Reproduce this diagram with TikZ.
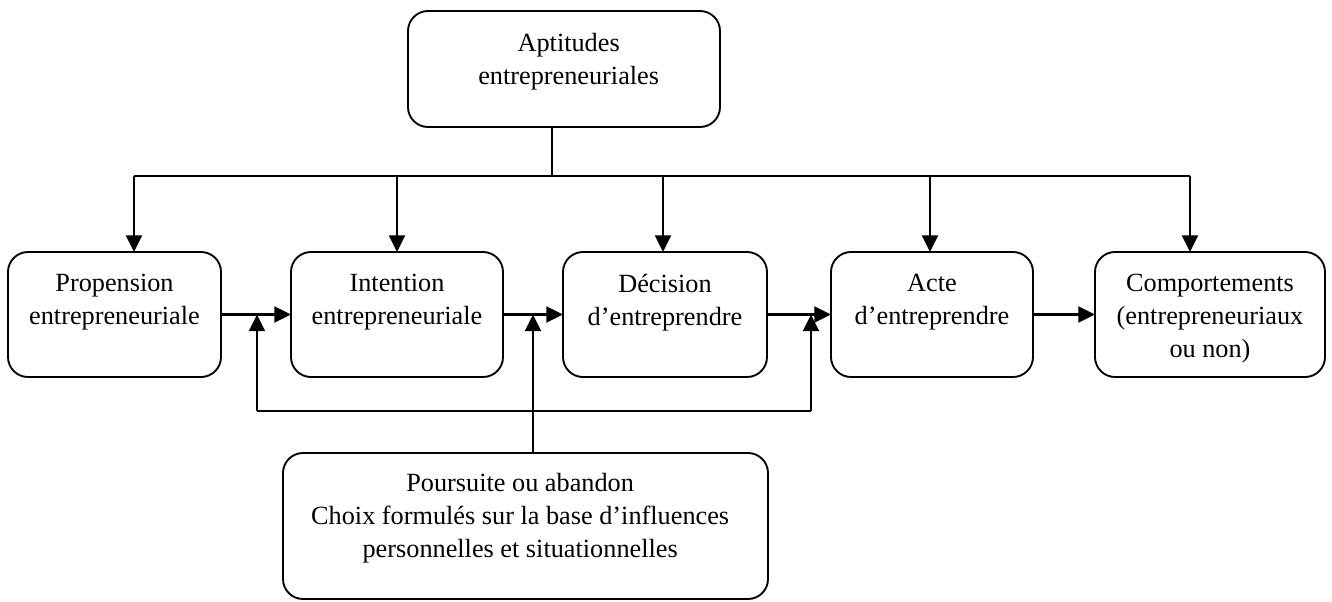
\documentclass[tikz,border=0pt]{standalone}
\usepackage{fontspec}
\setmainfont{Liberation Serif}
\usetikzlibrary{arrows.meta}
\tikzset{
  box/.style={draw, line width=1.4pt, rounded corners=15pt, inner sep=0pt, outer sep=0pt},
  rowbox/.style={box, minimum height=93.75pt},
  txt/.style={anchor=north, inner sep=0pt, align=center,
    font=\fontsize{19.7pt}{24.75pt}\selectfont},
  link/.style={line width=1.6pt},
  arr/.style={link, -{Triangle[length=12.5pt,width=12pt]}},
}
\begin{document}
\begin{tikzpicture}[x=0.75pt,y=-0.75pt]
\useasboundingbox (0,0) rectangle (1332,601);

% boxes
\node[box, minimum width=234pt, minimum height=87pt] (T) at (564,69) {};
\node[rowbox, minimum width=159.75pt] (P1) at (114.5,314.5) {};
\node[rowbox, minimum width=159pt]    (P2) at (397,314.5) {};
\node[rowbox, minimum width=153pt]    (P3) at (665,314.5) {};
\node[rowbox, minimum width=151.5pt]  (P4) at (932,314.5) {};
\node[rowbox, minimum width=172.5pt]  (P5) at (1210,314.5) {};
\node[box, minimum width=363.75pt, minimum height=109.5pt] (B) at (525.5,526) {};

% texts
\node[txt] (tT) at ([xshift=3.5pt,yshift=-16.5pt]T.north) {Aptitudes\\entrepreneuriales};
\node[txt] (t1) at ([yshift=-16.5pt]P1.north) {Propension\\entrepreneuriale};
\node[txt] (t2) at ([yshift=-16.5pt]P2.north) {Intention\\entrepreneuriale};
\node[txt] (t3) at ([yshift=-16.5pt]P3.north) {Décision\\d’entreprendre};
\node[txt] (t4) at ([yshift=-16.5pt]P4.north) {Acte\\d’entreprendre};
\node[txt] (t5) at ([yshift=-16.5pt]P5.north) {Comportements\\(entrepreneuriaux\\ou non)};
\node[txt] (tB) at ([xshift=-4pt,yshift=-15pt]B.north) {Poursuite ou abandon\\Choix formulés sur la base d’influences\\personnelles et situationnelles};

% distribution bus from the top box
\coordinate (bus) at (552,176);
\coordinate (d1) at (134,176);
\coordinate (d2) at (397,176);
\coordinate (d3) at (663,176);
\coordinate (d4) at (930,176);
\coordinate (d5) at (1190,176);
\draw[link] (T.south -| bus) -- (bus);
\draw[link] (d1) -- (d5);
\draw[arr] (d1) -- (d1 |- P1.north);
\draw[arr] (d2) -- (d2 |- P2.north);
\draw[arr] (d3) -- (d3 |- P3.north);
\draw[arr] (d4) -- (d4 |- P4.north);
\draw[arr] (d5) -- (d5 |- P5.north);

% main sequence
\draw[arr] (P1.east) -- (P2.west);
\draw[arr] (P2.east) -- (P3.west);
\draw[arr] (P3.east) -- (P4.west);
\draw[arr] (P4.east) -- (P5.west);

% feedback loop
\coordinate (f1) at (257,411);
\coordinate (f2) at (811,411);
\coordinate (m) at (533,411);
\draw[link] (f1) -- (f2);
\draw[arr] (f1) -- (f1 |- P1.east);
\draw[arr] (f2) -- (f2 |- P1.east);
\draw[arr] (B.north -| m) -- (m |- P1.east);
\end{tikzpicture}
\end{document}
